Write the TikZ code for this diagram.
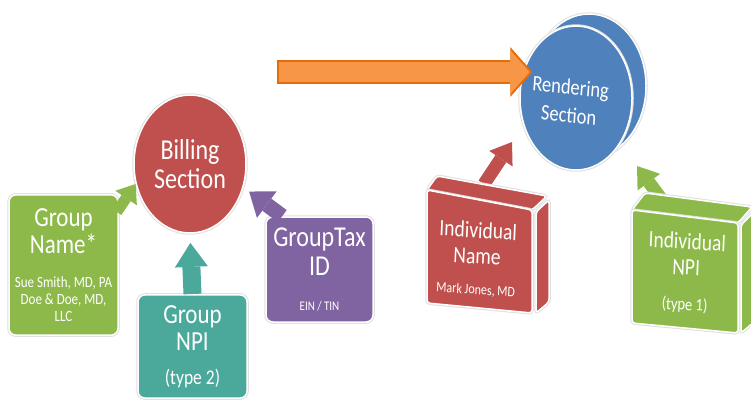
\documentclass[tikz,border=0pt]{standalone}
\usepackage{fontspec}
\setmainfont{Carlito}
\usetikzlibrary{shapes.geometric,arrows.meta}
\definecolor{bgreen}{HTML}{8DB94B}
\definecolor{bred}{HTML}{C0504D}
\definecolor{bteal}{HTML}{4BA99C}
\definecolor{bpurple}{HTML}{8064A2}
\definecolor{bblue}{HTML}{4F81BD}
\definecolor{borange}{HTML}{F79646}
\definecolor{dorange}{HTML}{E46C0A}
\newcommand{\sz}[2]{\fontsize{#1}{#2}\selectfont}

\begin{document}
\begin{tikzpicture}[x=1pt,y=-1pt,
	tall/.style={yscale=1.2},
	glow/.style={draw=white, line width=1.5pt, preaction={draw=black!12, line width=3.5pt}},
	card/.style={tall, glow, rectangle, rounded corners=7pt, text=white, align=center, inner sep=0pt},
	disk/.style={glow, ellipse, inner sep=0pt},
	face/.style={glow, rounded corners=3pt},
	lbl/.style={tall, text=white, align=center, inner sep=0pt},
	blk/.style n args={3}{line width=#1, -{Triangle[width=#2,length=#3,line width=0pt]}}]
			\path[use as bounding box, fill=white] (0,0) rectangle (751,400);

			% Billing section
			\node[card, fill=bgreen, minimum width=109pt, minimum height=117pt, font=\sz{23}{22.5}] (gname) at (63.5,265)
				{Group\\Name*\\[6pt]\sz{13}{14}Sue Smith, MD, PA\\[-8.5pt]\sz{13}{14}Doe \& Doe, MD,\\[-8.5pt]\sz{13}{14}LLC};
			\node[disk, tall, fill=bred, minimum width=112pt, minimum height=115pt, text=white, align=center, font=\sz{24}{24}] (billing) at (190,164) {Billing\\Section};
			\node[card, fill=bteal, minimum width=109pt, minimum height=86pt, font=\sz{23}{22.5}] (gnpi) at (192.5,346.5)
				{Group\\NPI\\[6pt]\sz{17.5}{17}(type 2)};
			\node[card, fill=bpurple, minimum width=107pt, minimum height=87.5pt, font=\sz{24}{24}] (taxid) at (319.5,269.5)
				{GroupTax\\ID\\[5pt]\sz{11}{11}EIN / TIN};
			\draw[bgreen, blk={11pt}{26pt}{17pt}] ([xshift=-2pt,yshift=-18pt]gname.north east) -- (billing.197);
			\draw[bteal, blk={18pt}{33pt}{24pt}, shorten >=9pt] (gnpi.north) -- (billing.south);
			\draw[bpurple, blk={15pt}{33pt}{22pt}, shorten >=7pt] ([xshift=17pt]taxid.north west) -- (billing.340);

			% Rendering section
			\draw[glow, fill=bblue] (589,86) ellipse [x radius=57, y radius=72];
			\node[disk, fill=bblue, minimum width=112pt, minimum height=144pt,
				label={[lbl, rotate=-5, xshift=-6pt, yshift=-3pt, font=\sz{18.5}{23}]center:Rendering\\Section}] (render) at (576,98) {};
			\coordinate (otail) at (277,72);
			\draw[dorange, blk={24pt}{50pt}{22pt}] (otail) -- ([xshift=13pt]otail -| render.west);
			\draw[borange, blk={20pt}{43pt}{19pt}, shorten <=2pt, shorten >=2.6pt] (otail) -- ([xshift=13pt]otail -| render.west);

			% Individual name
			\coordinate (ntop) at (484,184);
			\coordinate (ntip) at (512,142);
			\draw[bred, blk={13pt}{28pt}{20pt}] (ntop) -- (ntip);
			\filldraw[face, fill=bred] (437,176) -- (547,196) -- (532,210) -- (427,190) -- cycle;
			\filldraw[face, fill=bred] (536,212) -- (549,200) -- (549,302) -- (536,313) -- cycle;
			\filldraw[face, fill=bred] (427,190) -- (532,210) -- (532,313) -- (427,303) -- cycle;
			\node[lbl, rotate=-3, font=\sz{19.5}{21.5}] (iname) at (477,259)
				{Individual\\Name\\[4pt]\sz{12}{12}Mark Jones, MD};

			% Individual NPI
			\coordinate (ptop) at (662,200);
			\coordinate (ptip) at (637,166);
			\draw[bgreen, blk={13pt}{28pt}{20pt}] (ptop) -- (ptip);
			\filldraw[face, fill=bgreen] (645,193) -- (752,207) -- (738,223) -- (632,210) -- cycle;
			\filldraw[face, fill=bgreen] (741,225) -- (754,212) -- (754,322) -- (741,333) -- cycle;
			\filldraw[face, fill=bgreen] (632,210) -- (738,223) -- (738,333) -- (632,323) -- cycle;
			\node[lbl, rotate=-3, font=\sz{19.5}{21.5}] (inpi) at (686,273)
				{Individual\\NPI\\[8pt]\sz{14.5}{14.5}(type 1)};
		\end{tikzpicture}
\end{document}
